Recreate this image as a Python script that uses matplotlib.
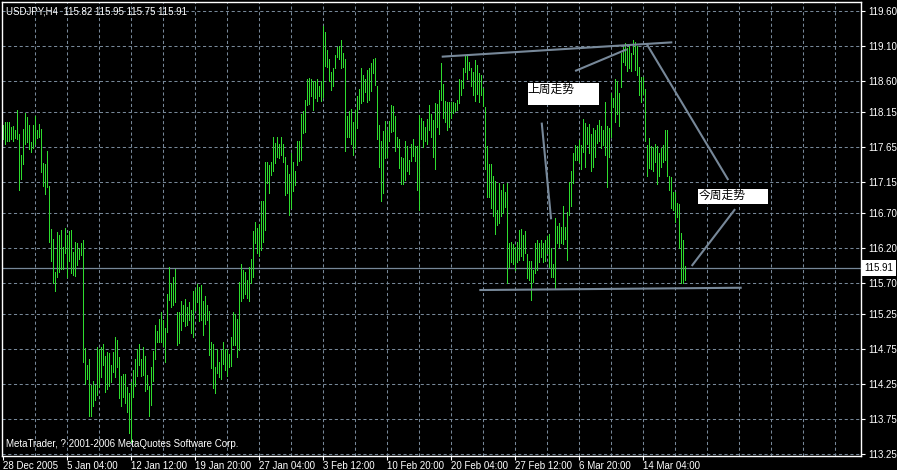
import matplotlib
matplotlib.use("Agg")
import matplotlib.pyplot as plt
import matplotlib.transforms as mtransforms
from matplotlib.patches import Rectangle

# USDJPY H4 bars (high / low per bar, oldest first)
highs = [
    117.97, 118.01, 118.01, 118.01, 117.94, 117.95, 117.89, 118.18, 117.84, 117.54,
    117.91, 118.14, 118.08, 117.97, 117.72, 117.97, 118.10, 117.89, 117.98, 117.91,
    117.42, 117.40, 117.60, 117.09, 116.48, 116.33, 115.86, 116.43, 116.39, 116.46,
    116.21, 116.49, 116.39, 116.45, 116.46, 116.14, 116.29, 116.28, 116.19, 116.28,
    116.32, 114.77, 114.52, 114.61, 114.24, 114.30, 114.24, 114.79, 114.76, 114.79,
    114.82, 114.66, 114.71, 114.70, 114.52, 114.71, 114.93, 114.89, 114.64, 114.37,
    114.39, 114.39, 114.21, 114.13, 114.28, 114.46, 114.61, 114.75, 114.82, 114.61,
    114.78, 114.65, 114.38, 114.23, 114.49, 114.73, 115.10, 115.01, 115.18, 115.28,
    115.17, 115.05, 115.55, 115.93, 115.70, 115.79, 115.90, 115.29, 115.28, 115.44,
    115.39, 115.47, 115.36, 115.43, 115.32, 115.58, 115.61, 115.69, 115.65, 115.67,
    115.45, 115.51, 115.39, 115.30, 114.86, 114.83, 114.50, 114.76, 114.57, 114.74,
    114.86, 114.76, 114.76, 114.69, 114.93, 115.28, 115.26, 115.19, 115.72, 115.97,
    115.89, 115.86, 115.74, 115.93, 116.04, 116.44, 116.58, 116.49, 116.55, 116.87,
    116.88, 117.44, 117.44, 117.39, 117.44, 117.80, 117.71, 117.79, 117.69, 117.80,
    117.69, 117.51, 117.39, 117.26, 117.56, 117.43, 117.31, 117.74, 117.74, 118.12,
    118.17, 118.32, 118.62, 118.64, 118.62, 118.60, 118.59, 118.62, 118.53, 118.59,
    119.39, 119.30, 119.04, 118.91, 118.73, 118.78, 118.97, 119.09, 119.10, 119.18,
    119.00, 118.91, 118.09, 118.16, 118.19, 118.01, 118.18, 118.38, 118.48, 118.78,
    118.68, 118.62, 118.75, 118.78, 118.86, 118.91, 118.92, 118.53, 117.97, 117.74,
    117.88, 118.03, 117.90, 118.03, 118.25, 118.24, 118.09, 117.79, 117.77, 117.51,
    117.49, 117.73, 117.67, 117.47, 117.70, 117.76, 117.66, 117.67, 118.11, 118.07,
    118.03, 117.94, 118.05, 118.25, 118.13, 118.04, 118.28, 118.27, 118.47, 118.86,
    118.55, 118.31, 118.29, 118.30, 118.30, 118.29, 118.28, 118.32, 118.62, 118.61,
    118.79, 118.95, 118.98, 118.87, 118.79, 118.73, 118.90, 118.83, 118.71, 118.68,
    118.49, 118.23, 117.66, 117.41, 117.41, 117.23, 117.17, 116.75, 117.13, 117.04,
    117.12, 117.01, 117.14, 116.28, 116.29, 116.26, 116.21, 116.29, 116.46, 116.48,
    116.39, 116.44, 116.12, 116.01, 116.01, 115.89, 116.28, 116.32, 116.27, 116.32,
    116.27, 116.32, 116.37, 116.41, 116.20, 115.97, 116.63, 116.52, 116.56, 116.51,
    116.81, 116.51, 116.72, 117.15, 117.30, 117.56, 117.68, 117.67, 117.75, 117.68,
    118.05, 118.00, 117.94, 117.98, 117.84, 117.92, 117.89, 117.97, 118.04, 117.95,
    117.90, 118.29, 117.95, 117.92, 118.43, 118.36, 118.62, 118.59, 118.42, 119.00,
    119.09, 119.14, 119.07, 119.10, 119.00, 119.19, 119.15, 119.10, 118.80, 118.66,
    118.65, 118.48, 117.68, 117.78, 117.67, 117.65, 117.69, 117.66, 117.56, 117.63,
    117.68, 117.89, 117.90, 117.23, 117.22, 117.00, 117.01, 116.85, 116.84, 116.42,
    116.32, 115.95,
]
lows = [
    117.77, 117.70, 117.74, 117.73, 117.76, 117.73, 117.78, 117.77, 117.04, 117.19,
    117.40, 117.70, 117.72, 117.62, 117.58, 117.64, 117.70, 117.78, 117.79, 117.29,
    117.09, 116.98, 117.07, 116.29, 116.02, 115.70, 115.59, 115.78, 115.86, 115.90,
    115.90, 116.13, 115.78, 116.01, 115.85, 115.82, 115.80, 115.96, 116.04, 116.10,
    114.57, 114.26, 114.33, 113.79, 113.79, 113.94, 114.02, 114.09, 114.21, 114.35,
    114.52, 114.14, 114.18, 114.23, 114.28, 114.43, 114.35, 114.50, 114.05, 113.94,
    114.07, 113.98, 113.85, 113.55, 113.42, 114.07, 114.23, 114.37, 114.52, 114.37,
    114.38, 114.15, 114.18, 113.80, 113.95, 114.29, 114.61, 114.85, 114.86, 114.86,
    114.80, 114.57, 115.00, 115.46, 115.35, 115.39, 115.43, 114.81, 114.84, 115.03,
    115.15, 115.08, 115.10, 115.17, 114.98, 114.93, 115.31, 115.43, 115.15, 115.17,
    114.96, 115.12, 115.17, 114.67, 114.48, 114.19, 114.13, 114.41, 114.35, 114.33,
    114.54, 114.45, 114.37, 114.50, 114.51, 114.81, 114.81, 114.64, 114.74, 115.45,
    115.48, 115.54, 115.48, 115.45, 115.70, 115.79, 116.28, 116.13, 116.09, 116.17,
    116.29, 116.46, 117.13, 116.99, 117.25, 117.30, 117.42, 117.51, 117.49, 117.54,
    117.43, 116.96, 116.99, 116.68, 116.77, 117.02, 117.11, 117.39, 117.45, 117.46,
    117.85, 117.86, 118.25, 118.27, 118.38, 118.18, 118.36, 118.31, 118.38, 118.31,
    118.37, 118.81, 118.80, 118.59, 118.47, 118.53, 118.78, 118.94, 118.91, 118.79,
    118.80, 117.60, 117.79, 117.79, 117.69, 117.54, 117.63, 117.92, 118.19, 118.28,
    118.31, 118.44, 118.29, 118.32, 118.46, 118.71, 118.54, 117.77, 117.36, 116.88,
    116.99, 117.49, 117.50, 117.74, 117.87, 117.88, 117.60, 117.65, 117.35, 117.12,
    117.12, 117.18, 117.30, 117.26, 117.45, 117.52, 117.45, 117.03, 116.75, 117.76,
    117.65, 117.73, 117.69, 117.89, 117.80, 117.51, 117.34, 117.94, 117.84, 118.33,
    118.06, 118.01, 117.90, 117.93, 118.06, 118.14, 118.16, 118.18, 118.28, 118.40,
    118.49, 118.72, 118.63, 118.75, 118.52, 118.40, 118.31, 118.41, 118.30, 118.40,
    118.24, 117.34, 116.94, 116.93, 116.77, 116.66, 116.41, 116.53, 116.56, 116.66,
    116.70, 116.79, 115.70, 115.93, 116.00, 115.98, 115.89, 116.00, 116.03, 116.09,
    116.03, 116.13, 115.77, 115.75, 115.46, 115.72, 115.84, 115.89, 116.00, 116.08,
    116.00, 116.01, 116.13, 115.93, 115.79, 115.78, 115.63, 116.27, 116.21, 116.27,
    116.26, 116.33, 116.03, 116.68, 116.80, 117.13, 117.46, 117.46, 117.44, 117.34,
    117.58, 117.37, 117.70, 117.57, 117.31, 117.37, 117.51, 117.71, 117.74, 117.63,
    117.68, 117.54, 117.07, 117.51, 117.80, 118.22, 118.01, 118.12, 117.95, 118.51,
    118.87, 118.83, 118.74, 118.78, 118.74, 118.99, 118.76, 118.68, 118.40, 118.30,
    118.41, 117.73, 117.24, 117.35, 117.33, 117.30, 117.43, 117.12, 117.23, 117.36,
    117.43, 117.46, 117.24, 117.03, 116.77, 116.75, 116.57, 116.65, 116.20, 115.70,
    115.70, 115.75,
]

price_ticks = [119.60, 119.10, 118.60, 118.15, 117.65, 117.15, 116.70,
               116.20, 115.70, 115.25, 114.75, 114.25, 113.75, 113.25]
date_bars = [0, 32, 64, 96, 128, 160, 192, 224, 256, 288, 320]
date_labels = ["28 Dec 2005", "5 Jan 04:00", "12 Jan 12:00", "19 Jan 20:00",
               "27 Jan 04:00", "3 Feb 12:00", "10 Feb 20:00", "20 Feb 04:00",
               "27 Feb 12:00", "6 Mar 20:00", "14 Mar 04:00"]
last_price = 115.91
header = "USDJPY,H4  115.82 115.95 115.75 115.91"

# trend lines drawn on the chart: (bar, price) -> (bar, price)
trend_lines = [
    ((219.2, 118.945), (334.5, 119.151)),
    ((285.9, 118.740), (311.7, 119.050)),
    ((321.7, 119.127), (362.5, 117.177)),
    ((269.2, 118.000), (273.9, 116.614)),
    ((238.0, 115.600), (369.2, 115.633)),
    ((344.2, 115.945), (365.9, 116.760)),
]
# text labels: (text, bar left, bar right, price top, price bottom)
notes = [
    ("上周走势", 262.2, 297.9, 118.572, 118.253),
    ("今周走势", 347.5, 382.4, 117.048, 116.833),
]

BAR = "#2edc2e"
GRID = "#778899"
W, H = 897, 470

fig = plt.figure(figsize=(W / 100, H / 100), dpi=100, facecolor="black")
ax = fig.add_axes([2 / W, 1 - 456 / H, 859 / W, 454 / H])
ax.set_facecolor("black")
ax.set_xlim(-0.65, 428.85)
ax.set_ylim(113.221, 119.729)

# grid
for p in price_ticks:
    ax.axhline(p, color=GRID, lw=0.75, dashes=(3, 2.5), zorder=1)
for b in range(16, 429, 16):
    ax.axvline(b, color=GRID, lw=0.75, dashes=(3, 2.5), zorder=1)

ax.axhline(last_price, color=GRID, lw=0.9, zorder=1)

ax.vlines(range(len(highs)), lows, highs, colors=BAR, lw=0.6,
          antialiased=False, zorder=2)

for (b1, p1), (b2, p2) in trend_lines:
    ax.plot([b1, b2], [p1, p2], color=GRID, lw=1.5, zorder=3,
            solid_capstyle="butt")

for txt, x0, x1, ptop, pbot in notes:
    ax.add_patch(Rectangle((x0, pbot), x1 - x0, ptop - pbot,
                           facecolor="white", edgecolor="none", zorder=4))
    ax.text(x0, ptop, txt, color="black", fontsize=8.5, ha="left", va="top",
            family=["Noto Sans CJK SC", "DejaVu Sans"], zorder=5)

for s in ax.spines.values():
    s.set_color("white")
    s.set_linewidth(1)

ax.yaxis.tick_right()
ax.set_yticks(price_ticks)
ax.set_yticklabels(["%.2f" % p for p in price_ticks])
ax.set_xticks(date_bars)
ax.set_xticklabels(date_labels, ha="left")
ax.tick_params(colors="white", labelcolor="white", labelsize=7, length=3,
               width=0.8, pad=2)
ax.tick_params(axis="x", pad=0.5)
for lab in ax.get_xticklabels() + ax.get_yticklabels():
    lab.set_family("Liberation Sans")

# current price box on the price scale
trans = mtransforms.blended_transform_factory(ax.transAxes, ax.transData)
ax.text(1.004, last_price, "%.2f" % last_price, transform=trans, color="black",
        fontsize=7, family="Liberation Sans", ha="left", va="center",
        bbox=dict(boxstyle="square,pad=0.3", facecolor="white", edgecolor="none"),
        zorder=6, clip_on=False)

fig.text(6 / W, 1 - 11 / H, header, color="white", fontsize=7,
         family="Liberation Sans", va="center", ha="left")
fig.text(6 / W, 1 - 444 / H, "MetaTrader, ? 2001-2006 MetaQuotes Software Corp.",
         color="white", fontsize=7, family="Liberation Sans", va="center", ha="left")

fig.savefig("out.png", dpi=100, facecolor="black")
